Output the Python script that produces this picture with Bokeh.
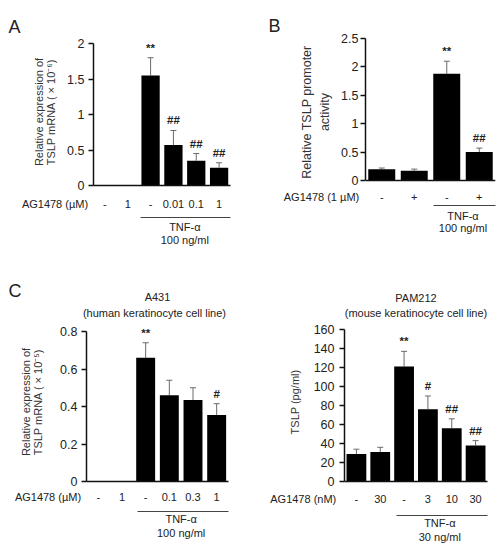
import numpy as np
from bokeh.plotting import figure
from bokeh.models import (ColumnDataSource, Whisker, TeeHead, LabelSet, Title,
                          LinearAxis, Range1d, FixedTicker)
from bokeh.layouts import column, row
from bokeh.core.properties import value
from bokeh.embed import file_html
from bokeh.resources import INLINE

FONT = "Liberation Sans"
NAN = np.nan
EM = "\u2003"
EN = "\u2002"

# ---------------- data ----------------
# Panel A: TSLP mRNA, TNF-a 100 ng/ml
a_ticks = ["-", "1", "-", "0.01", "0.1", "1"]
a_mean = [NAN, NAN, 1.55, 0.57, 0.35, 0.25]
a_err = [NAN, NAN, 1.80, 0.775, 0.45, 0.32]
a_sig = ["", "", "**", "##", "##", "##"]
a_yticks = [0, 0.5, 1, 1.5, 2]

# Panel B: TSLP promoter activity
b_ticks = ["-", "+", "-", "+"]
b_mean = [0.20, 0.17, 1.88, 0.50]
b_err = [0.22, 0.20, 2.10, 0.57]
b_sig = ["", "", "**", "##"]
b_yticks = [0, 0.5, 1, 1.5, 2, 2.5]

# Panel C left: A431
c1_ticks = ["-", "1", "-", "0.1", "0.3", "1"]
c1_mean = [NAN, NAN, 0.66, 0.46, 0.435, 0.355]
c1_err = [NAN, NAN, 0.74, 0.54, 0.50, 0.415]
c1_sig = ["", "", "**", "", "", "#"]
c1_yticks = [0, 0.2, 0.4, 0.6, 0.8]

# Panel C right: PAM212
c2_ticks = ["-", "30", "-", "3", "10", "30"]
c2_mean = [29, 31, 121, 76, 56, 38]
c2_err = [34, 36, 137, 90, 66, 43]
c2_sig = ["", "", "**", "#", "##", "##"]
c2_yticks = [0, 20, 40, 60, 80, 100, 120, 140, 160]


def txt_axis(ticks, labels, standoff, line_color=None, bounds="auto", size="11px"):
    ax = LinearAxis(ticker=FixedTicker(ticks=ticks), bounds=bounds,
                    major_label_overrides=dict(zip(ticks, labels)),
                    axis_line_color=line_color, axis_line_width=1,
                    major_tick_line_color=None, minor_tick_line_color=None,
                    major_tick_out=0, major_tick_in=0,
                    major_label_standoff=standoff,
                    major_label_text_font=FONT, major_label_text_font_size=size,
                    major_label_text_color="#222222")
    return ax


def panel(ticks, mean, err, sig, yticks, ylabel, header, dose, tnf_from, tnf_cx,
          width, height, bl, br, ftop, fbot, y0px, ytoppx,
          ylab_size, ylab_lh, ylab_standoff, ytick_standoff,
          lab_s, spacer, tnf_s, dose_s, titles, bar_w=0.8, fixed_x=False):
    n = len(ticks)
    ymax = yticks[-1]
    py = (y0px - ytoppx) / ymax
    y_start = -(fbot - y0px) / py
    y_end = ymax + (ytoppx - ftop) / py
    p = figure(x_range=Range1d(0, n), y_range=Range1d(y_start, y_end),
               width=width, height=height, min_border_left=bl, min_border_right=br,
               min_border_top=ftop, min_border_bottom=height - fbot,
               output_backend="svg", toolbar_location=None)
    p.outline_line_color = None
    p.xgrid.visible = False
    p.ygrid.visible = False
    p.background_fill_color = "white"
    p.border_fill_color = "white"

    pos = [float(v) for v in np.arange(n) + 0.5]
    idx = [i for i in range(n) if not np.isnan(mean[i])]
    src = ColumnDataSource(dict(
        x=[pos[i] for i in idx],
        top=[mean[i] for i in idx],
        err=[err[i] for i in idx],
        sig=[sig[i] for i in idx],
        sig_y=[err[i] + 10 / py for i in idx],
    ))
    p.vbar(x="x", top="top", width=bar_w, source=src, fill_color="black",
           line_color=None)
    p.add_layout(Whisker(base="x", lower="top", upper="err", source=src,
                         line_color="#6a6a6a", line_width=1,
                         upper_head=TeeHead(size=6, line_color="#6a6a6a", line_width=1),
                         lower_head=None))
    p.add_layout(LabelSet(x="x", y="sig_y", text="sig", source=src,
                          text_align="center", text_baseline="middle",
                          text_font=value(FONT), text_font_size="11.5px",
                          text_font_style="bold", text_color="#222222"))

    # y axis
    yax = p.yaxis[0]
    yax.bounds = (0, ymax)
    yax.ticker = FixedTicker(ticks=yticks)
    yax.major_label_overrides = {t: f"{t:g}" for t in yticks}
    yax.minor_tick_line_color = None
    yax.major_tick_in = 0
    yax.major_tick_out = 5
    yax.major_label_standoff = ytick_standoff
    yax.major_label_text_font = FONT
    yax.major_label_text_font_size = "12.5px"
    yax.major_label_text_color = "#222222"
    yax.axis_line_color = "#111111"
    yax.axis_line_width = 1.5
    yax.major_tick_line_color = "#111111"
    yax.major_tick_line_width = 1.5
    yax.axis_label = ylabel
    yax.axis_label_text_font = FONT
    yax.axis_label_text_font_style = "normal"
    yax.axis_label_text_font_size = ylab_size
    yax.axis_label_text_color = "#333333"
    yax.axis_label_standoff = ylab_standoff
    yax.axis_label_text_line_height = ylab_lh

    # x axis line (at y = 0)
    xax = p.xaxis[0]
    xax.ticker = FixedTicker(ticks=[])
    xax.major_tick_line_color = None
    xax.minor_tick_line_color = None
    xax.major_tick_out = 0
    xax.major_tick_in = 0
    xax.major_label_standoff = 0
    xax.axis_line_color = "#111111"
    xax.axis_line_width = 1.5
    if fixed_x:
        xax.fixed_location = 0

    # category labels row (with row header at the left)
    lab = txt_axis([0.0] + pos, [header] + list(ticks), lab_s)
    if spacer is not None:
        lab.axis_label = " "
        lab.axis_label_text_font_size = "1px"
        lab.axis_label_standoff = spacer
    p.add_layout(lab, "below")
    # TNF bracket line + texts
    p.add_layout(txt_axis([tnf_cx], ["TNF-α"], tnf_s, line_color="#444444",
                          bounds=(tnf_from, n)), "below")
    p.add_layout(txt_axis([tnf_cx], [dose], dose_s), "below")

    for text, size, align, offset, standoff in titles:
        p.add_layout(Title(text=text, align=align, offset=offset, standoff=standoff,
                           text_font=FONT, text_font_size=size,
                           text_font_style="normal", text_color="#222222"), "above")
    return p


pA = panel(a_ticks, a_mean, a_err, a_sig, a_yticks,
           "Relative expression of\nTSLP mRNA ( × 10⁻⁶)", "AG1478 (µM)" + EM * 7,
           "100 ng/ml", 2.05, 4.0,
           251, 280, 93, 21, 38, 185, 185, 43,
           "11px", 1.05, 7, 4,
           lab_s=12, spacer=1, tnf_s=3, dose_s=-2,
           titles=[("A", "18px", "left", -85, 3)])

pB = panel(b_ticks, b_mean, b_err, b_sig, b_yticks,
           "Relative TSLP promoter\nactivity", "AG1478 (1 µM)" + EM * 8,
           "100 ng/ml", 2.08, 3.0,
           251, 280, 114, 7, 38, 185, 180, 38,
           "12.5px", 1.3, 6, 2,
           lab_s=5, spacer=None, tnf_s=4, dose_s=-3,
           titles=[("B", "18px", "left", -97, 5)], bar_w=0.83, fixed_x=True)

pC1 = panel(c1_ticks, c1_mean, c1_err, c1_sig, c1_yticks,
            "Relative expression of\nTSLP mRNA ( × 10⁻⁵)", "AG1478 (µM)" + EM * 7,
            "100 ng/ml", 2.15, 4.0,
            251, 270, 86, 23, 42, 201, 201, 51,
            "11px", 1.05, 13, 4,
            lab_s=9, spacer=2, tnf_s=1, dose_s=-1,
            titles=[("(human  keratinocyte  cell line)", "11px", "center", 0, 7),
                    ("A431", "11px", "center", 0, -3),
                    ("C", "18px", "left", -78, -20)])

pC2 = panel(c2_ticks, c2_mean, c2_err, c2_sig, c2_yticks,
            "TSLP (pg/ml)", "AG1478 (nM)" + EM * 7 + EN,
            "30 ng/ml", 2.18, 4.0,
            251, 270, 93, 15, 42, 201, 201, 49,
            "11px", 1.05, 10, 5,
            lab_s=11, spacer=4, tnf_s=1, dose_s=-1,
            titles=[("(mouse keratinocyte cell line)", "11px", "center", 0, 7),
                    ("PAM212", "11px", "center", 0, -5)],
            bar_w=0.83)

layout = column(row(pA, pB), row(pC1, pC2))
open("out.html", "w").write(file_html(layout, INLINE))
